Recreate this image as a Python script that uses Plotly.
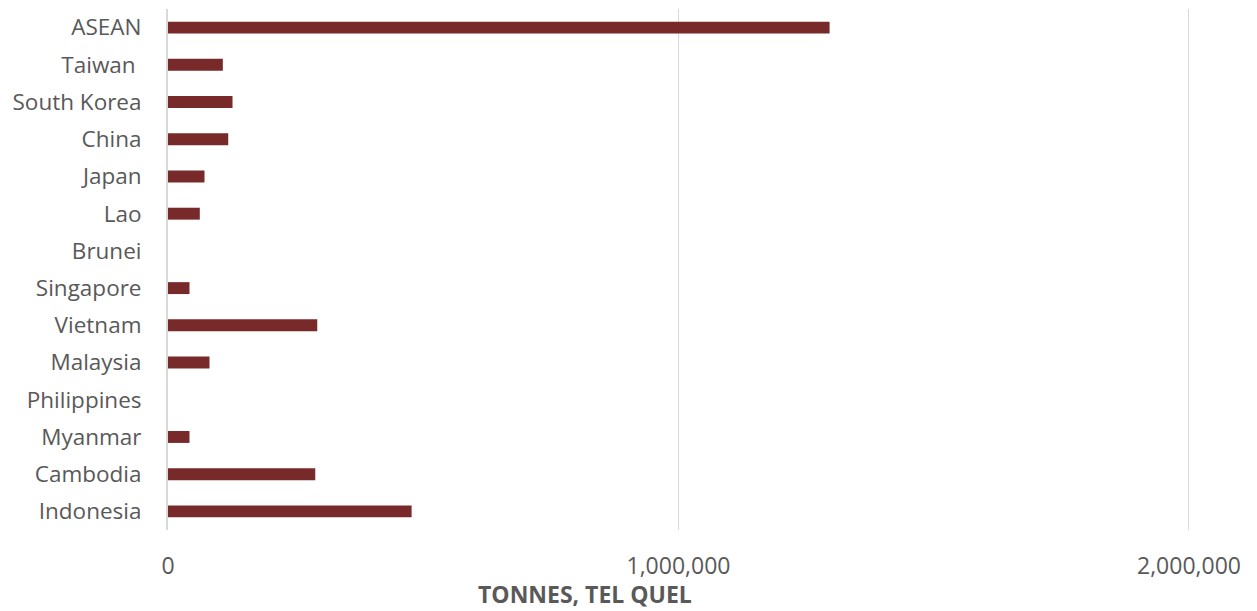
import plotly.graph_objects as go

# Tonnes (tel quel) by destination, top to bottom as displayed
countries = ["ASEAN", "Taiwan\u00a0", "South Korea", "China", "Japan", "Lao", "Brunei",
             "Singapore", "Vietnam", "Malaysia", "Philippines", "Myanmar", "Cambodia", "Indonesia"]
tonnes = [1296000, 107400, 126400, 118000, 71500, 62300, 0,
          42100, 292400, 81300, 0, 42100, 288500, 477200]

x_ticks = [0, 1000000, 2000000]
x_tick_text = ["0", "1,000,000", "2,000,000"]
x_title = "TONNES, TEL QUEL"

font_family = "'Open Sans', sans-serif"
grey = "#595959"

fig = go.Figure(
    go.Bar(
        x=tonnes,
        y=countries,
        orientation="h",
        marker=dict(color="#782A2A", line=dict(width=0)),
    )
)

fig.update_layout(
    width=1257,
    height=611,
    margin=dict(l=168, r=66, t=9, b=81),
    plot_bgcolor="white",
    paper_bgcolor="white",
    bargap=0.68,
    showlegend=False,
    font=dict(family=font_family, color=grey, size=22),
)

fig.update_xaxes(
    range=[0, 2004000],
    tickvals=x_ticks,
    ticktext=x_tick_text,
    showgrid=True,
    gridcolor="#D9D9D9",
    gridwidth=1,
    zeroline=False,
    showline=False,
    ticks="",
    ticklabelstandoff=20,
    tickfont=dict(size=23, color=grey),
)

fig.update_yaxes(
    autorange="reversed",
    showgrid=False,
    showline=True,
    linecolor="#D9D9D9",
    linewidth=2,
    ticks="",
    ticklabelstandoff=20,
    tickfont=dict(size=22.5, color=grey),
)

# Axis title, centred under the chart body
fig.add_annotation(
    text=f"<b>{x_title}</b>",
    xref="paper", yref="paper",
    x=(585 - 168) / (1257 - 168 - 66), y=-(594 - 9 - 521) / 521,
    xanchor="center", yanchor="middle",
    showarrow=False,
    borderpad=0,
    font=dict(size=23, color=grey, family=font_family),
)

fig.write_html("out.html")
